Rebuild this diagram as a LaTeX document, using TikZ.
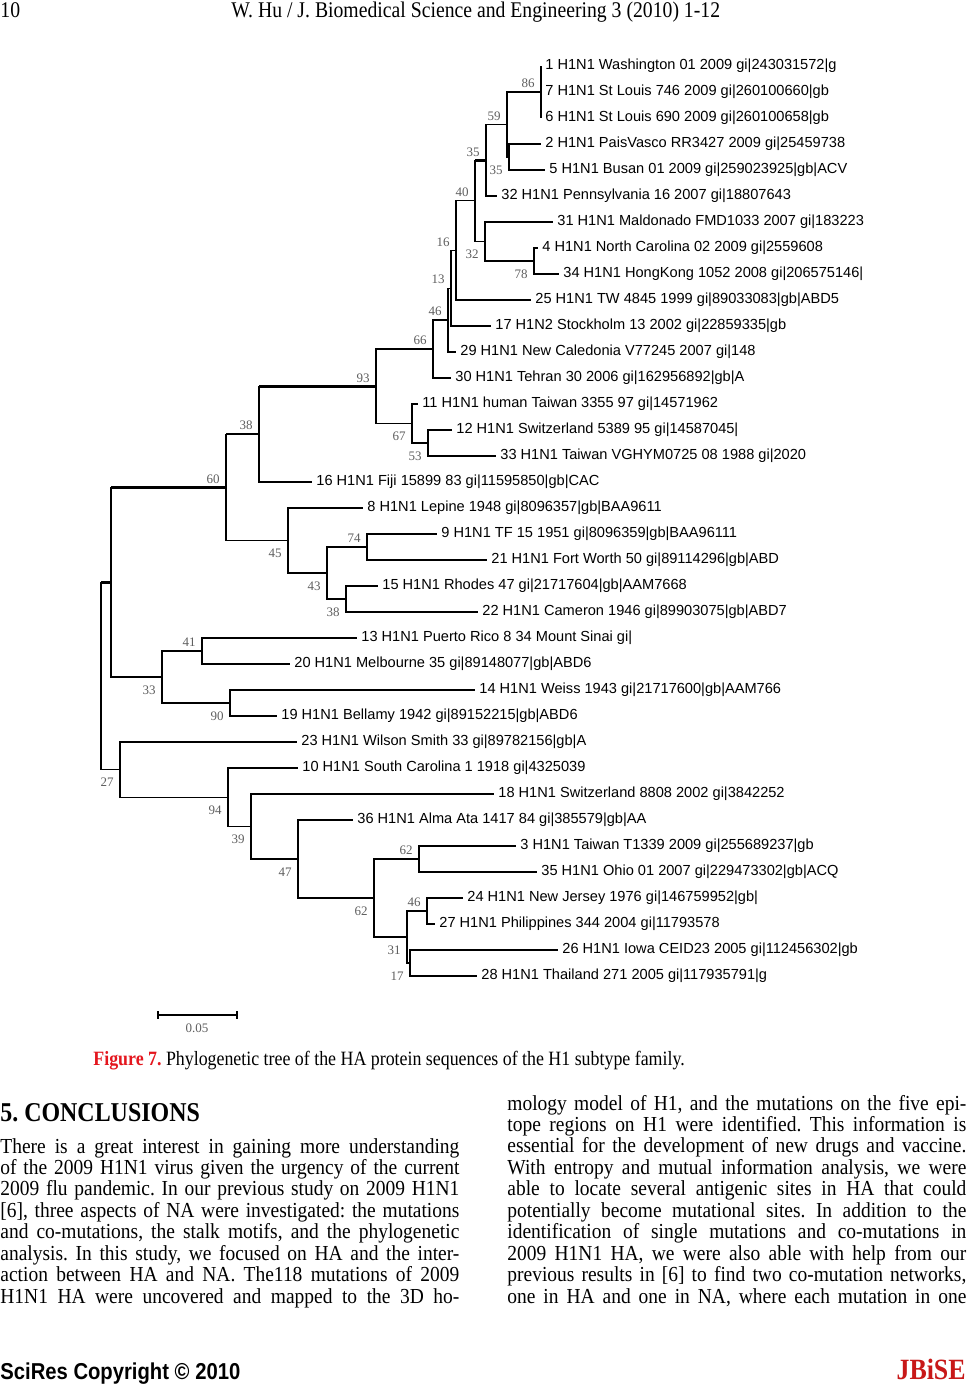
\documentclass[tikz,border=0pt]{standalone}
\usepackage{fontspec}
\setmainfont{Liberation Serif}[FakeStretch=0.88]
\newfontfamily\bodyfont{Liberation Serif}[FakeStretch=0.91]
\newfontfamily\treefont{Liberation Sans}
\newfontfamily\bootfont{Liberation Serif}
\newfontfamily\footfont{Liberation Sans}[FakeStretch=0.88]
\usepackage{xcolor}
\definecolor{figred}{RGB}{228,22,30}
\definecolor{jred}{RGB}{200,24,24}
\definecolor{bootgray}{RGB}{95,95,95}
\frenchspacing

\begin{document}
\begin{tikzpicture}[
      x = 0.5pt, y = -0.5pt,
     br/.style={line width=0.6pt},
     brthick/.style={line width=1.3pt},
     leaf/.style={anchor=west, inner sep=2.2pt, outer sep=0pt,
                  font=\treefont\fontsize{7.3}{8}\selectfont},
     boot/.style={inner sep=0pt, font=\bootfont\fontsize{6.5}{7}\selectfont, text=bootgray},
     bup/.style={boot, xshift=-6.5pt, yshift=4.25pt},
     bdn/.style={boot, xshift=-6.5pt, yshift=-6.5pt},
     plain/.style={anchor=base west, inner sep=0pt},
     bodyline/.style={plain, font=\bodyfont\fontsize{10.7}{10.75}\selectfont},
  ]
\path[fill=white] (0,0) rectangle (966,1385);
\useasboundingbox (0,0) rectangle (966,1385);

% page head
\node[plain, font=\fontsize{11.2}{12}\selectfont] (pno) at (0,18) {10};
\node[plain, font=\fontsize{11.2}{12}\selectfont] (hdr) at (231,18)
  {W. Hu / J. Biomedical Science and Engineering 3 (2010) 1-12};

% taxa
\node [leaf] (t1)  at (541,66)  {1 H1N1 Washington 01 2009 gi|243031572|g};
\node [leaf] (t7)  at (541,92)  {7 H1N1 St Louis 746 2009 gi|260100660|gb};
\node [leaf] (t6)  at (541,118) {6 H1N1 St Louis 690 2009 gi|260100658|gb};
\node [leaf] (t2)  at (541,144) {2 H1N1 PaisVasco RR3427 2009 gi|25459738};
\node [leaf] (t5)  at (545,170) {5 H1N1 Busan 01 2009 gi|259023925|gb|ACV};
\node [leaf] (t32) at (497,196) {32 H1N1 Pennsylvania 16 2007 gi|18807643};
\node [leaf] (t31) at (553,222) {31 H1N1 Maldonado FMD1033 2007 gi|183223};
\node [leaf] (t4)  at (538,248) {4 H1N1 North Carolina 02 2009 gi|2559608};
\node [leaf] (t34) at (559,274) {34 H1N1 HongKong 1052 2008 gi|206575146|};
\node [leaf] (t25) at (531,300) {25 H1N1 TW 4845 1999 gi|89033083|gb|ABD5};
\node [leaf] (t17) at (491,326) {17 H1N2 Stockholm 13 2002 gi|22859335|gb};
\node [leaf] (t29) at (456,352) {29 H1N1 New Caledonia V77245 2007 gi|148};
\node [leaf] (t30) at (451,378) {30 H1N1 Tehran 30 2006 gi|162956892|gb|A};
\node [leaf] (t11) at (418,404) {11 H1N1 human Taiwan 3355 97 gi|14571962};
\node [leaf] (t12) at (452,430) {12 H1N1 Switzerland 5389 95 gi|14587045|};
\node [leaf] (t33) at (496,456) {33 H1N1 Taiwan VGHYM0725 08 1988 gi|2020};
\node [leaf] (t16) at (312,482) {16 H1N1 Fiji 15899 83 gi|11595850|gb|CAC};
\node [leaf] (t8)  at (363,508) {8 H1N1 Lepine 1948 gi|8096357|gb|BAA9611};
\node [leaf] (t9)  at (437,534) {9 H1N1 TF 15 1951 gi|8096359|gb|BAA96111};
\node [leaf] (t21) at (487,560) {21 H1N1 Fort Worth 50 gi|89114296|gb|ABD};
\node [leaf] (t15) at (378,586) {15 H1N1 Rhodes 47 gi|21717604|gb|AAM7668};
\node [leaf] (t22) at (478,612) {22 H1N1 Cameron 1946 gi|89903075|gb|ABD7};
\node [leaf] (t13) at (357,638) {13 H1N1 Puerto Rico 8 34 Mount Sinai gi|};
\node [leaf] (t20) at (290,664) {20 H1N1 Melbourne 35 gi|89148077|gb|ABD6};
\node [leaf] (t14) at (475,690) {14 H1N1 Weiss 1943 gi|21717600|gb|AAM766};
\node [leaf] (t19) at (277,716) {19 H1N1 Bellamy 1942 gi|89152215|gb|ABD6};
\node [leaf] (t23) at (297,742) {23 H1N1 Wilson Smith 33 gi|89782156|gb|A};
\node [leaf] (t10) at (298,768) {10 H1N1 South Carolina 1 1918 gi|4325039};
\node [leaf] (t18) at (494,794) {18 H1N1 Switzerland 8808 2002 gi|3842252};
\node [leaf] (t36) at (353,820) {36 H1N1 Alma Ata 1417 84 gi|385579|gb|AA};
\node [leaf] (t3)  at (516,846) {3 H1N1 Taiwan T1339 2009 gi|255689237|gb};
\node [leaf] (t35) at (537,872) {35 H1N1 Ohio 01 2007 gi|229473302|gb|ACQ};
\node [leaf] (t24) at (463,898) {24 H1N1 New Jersey 1976 gi|146759952|gb|};
\node [leaf] (t27) at (435,924) {27 H1N1 Philippines 344 2004 gi|11793578};
\node [leaf] (t26) at (558,950) {26 H1N1 Iowa CEID23 2005 gi|112456302|gb};
\node [leaf] (t28) at (477,976) {28 H1N1 Thailand 271 2005 gi|117935791|g};

% inner nodes of the tree
\coordinate (c86)  at (541,92);
\coordinate (c35b) at (509,157);
\coordinate (c59)  at (507,124.5);
\coordinate (c35a) at (486,160.3);
\coordinate (c78)  at (534,261);
\coordinate (c32)  at (485,241.5);
\coordinate (c40)  at (475,200.9);
\coordinate (c16)  at (456,250.4);
\coordinate (c13)  at (451,288.2);
\coordinate (c46a) at (448,320.1);
\coordinate (c66)  at (433,349);
\coordinate (c53)  at (428,443);
\coordinate (c67)  at (412,423.5);
\coordinate (c93)  at (376,386.3);
\coordinate (c38a) at (259,434.1);
\coordinate (c74)  at (367,547);
\coordinate (c38b) at (346,599);
\coordinate (c43)  at (327,573);
\coordinate (c45)  at (288,540.5);
\coordinate (c60)  at (226,487.3);
\coordinate (c41)  at (202,651);
\coordinate (c90)  at (230,703);
\coordinate (c33)  at (162,677);
\coordinate (cA)   at (111,582.2);
\coordinate (c62a) at (419,859);
\coordinate (c46b) at (427,911);
\coordinate (c17)  at (410,963);
\coordinate (c31)  at (407,937);
\coordinate (c62b) at (374,898);
\coordinate (c47)  at (298,859);
\coordinate (c39)  at (251,826.5);
\coordinate (c94)  at (228,797.3);
\coordinate (c27)  at (120,769.6);
\coordinate (root) at (101,675.9);

% branches
\foreach \p/\c in {c86/t1, c86/t7, c86/t6, c35b/t2, c35b/t5, c59/c86, c59/c35b,
    c35a/c59, c35a/t32, c40/c35a, c40/c32, c32/t31, c32/c78, c78/t4, c78/t34,
    c16/c40, c16/t25, c13/c16, c13/t17, c46a/c13, c46a/t29, c66/c46a, c66/t30,
    c93/c66, c93/c67, c67/t11, c67/c53, c53/t12, c53/t33, c38a/c93, c38a/t16,
    c60/c38a, c60/c45, c45/t8, c45/c43, c43/c74, c43/c38b, c74/t9, c74/t21,
    c38b/t15, c38b/t22, cA/c60, cA/c33, c33/c41, c33/c90, c41/t13, c41/t20,
    c90/t14, c90/t19, root/cA, root/c27, c27/t23, c27/c94, c94/t10, c94/c39,
    c39/t18, c39/c47, c47/t36, c47/c62b, c62b/c62a, c62b/c31, c62a/t3, c62a/t35,
    c31/c46b, c31/c17, c46b/t24, c46b/t27, c17/t26, c17/t28}
  \draw[br] (\p) |- (\c);
% heavier strokes
\foreach \p/\c in {c40/c35a, c38a/c93, c60/c38a, cA/c60, root/cA, cA/c33, c90/t19,
    c39/t18, c39/c47, c47/t36, c47/c62b, c62b/c62a, c62a/t35, c62b/c31,
    c31/c46b, c46b/t24, c17/t26, c17/t28}
  \draw[brthick] (\p|-\c) -- (\c);
\foreach \p/\c in {root/cA, root/c27, c38a/c93, c60/c38a, c40/c35a, c46a/c13, c46a/t29}
  \draw[brthick] (\p) -- (\p|-\c);

% bootstrap values
\node[bup] (l86)  at (c86)  {86};
\node[bup] (l59)  at (c59)  {59};
\node[bdn] (l35b) at (c35b) {35};
\node[bup] (l35a) at (c35a) {35};
\node[bup] (l40)  at (c40)  {40};
\node[bdn] (l32)  at (c32)  {32};
\node[bdn] (l78)  at (c78)  {78};
\node[bup] (l16)  at (c16)  {16};
\node[bup] (l13)  at (c13)  {13};
\node[bup] (l46a) at (c46a) {46};
\node[bup] (l66)  at (c66)  {66};
\node[bup] (l93)  at (c93)  {93};
\node[bdn] (l67)  at (c67)  {67};
\node[bdn] (l53)  at (c53)  {53};
\node[bup] (l38a) at (c38a) {38};
\node[bup] (l60)  at (c60)  {60};
\node[bup] (l74)  at (c74)  {74};
\node[bdn] (l45)  at (c45)  {45};
\node[bdn] (l43)  at (c43)  {43};
\node[bdn] (l38b) at (c38b) {38};
\node[bup] (l41)  at (c41)  {41};
\node[bdn] (l33)  at (c33)  {33};
\node[bdn] (l90)  at (c90)  {90};
\node[bdn] (l27)  at (c27)  {27};
\node[bdn] (l94)  at (c94)  {94};
\node[bdn] (l39)  at (c39)  {39};
\node[bdn] (l47)  at (c47)  {47};
\node[bdn] (l62b) at (c62b) {62};
\node[bup] (l62a) at (c62a) {62};
\node[bup] (l46b) at (c46b) {46};
\node[bdn] (l31)  at (c31)  {31};
\node[bdn] (l17)  at (c17)  {17};

% scale bar
\coordinate (sbl) at (158,1015);
\coordinate (sbr) at (237,1015);
\draw[br] (sbl) -- (sbr);
\draw[br] ([yshift=2pt]sbl) -- ([yshift=-2pt]sbl);
\draw[br] ([yshift=2pt]sbr) -- ([yshift=-2pt]sbr);
\node[boot] (sbt) at (197,1028) {0.05};

% caption
\node[plain, font=\fontsize{10.15}{12}\selectfont] (cap) at (93,1065)
  {{\color{figred}\bfseries Figure 7.} Phylogenetic tree of the HA protein sequences of the H1 subtype family.};

% section text
\node[plain, font=\bfseries\fontsize{13.6}{14}\selectfont] (sec) at (0,1121) {5. CONCLUSIONS};
\foreach \ln [count=\i from 0] in {
    {There is a great interest in gaining more understanding},
    {of the 2009 H1N1 virus given the urgency of the current},
    {2009 flu pandemic. In our previous study on 2009 H1N1},
    {[6], three aspects of NA were investigated: the mutations},
    {and co-mutations, the stalk motifs, and the phylogenetic},
    {analysis. In this study, we focused on HA and the inter-},
    {action between HA and NA. The118 mutations of 2009},
    {H1N1 HA were uncovered and mapped to the 3D ho-}}
  \node[bodyline] (left\i) at (0,{1153+21.45*\i}) {\makebox[229.5pt][s]{\ln}};
\foreach \ln [count=\i from 0] in {
    {mology model of H1, and the mutations on the five epi-},
    {tope regions on H1 were identified. This information is},
    {essential for the development of new drugs and vaccine.},
    {With entropy and mutual information analysis, we were},
    {able to locate several antigenic sites in HA that could},
    {potentially become mutational sites. In addition to the},
    {identification of single mutations and co-mutations in},
    {2009 H1N1 HA, we were also able with help from our},
    {previous results in [6] to find two co-mutation networks,},
    {one in HA and one in NA, where each mutation in one}}
  \node[bodyline] (right\i) at (507,{1110+21.45*\i}) {\makebox[229.5pt][s]{\ln}};

% page foot
\node[plain, font=\footfont\bfseries\fontsize{11.5}{12}\selectfont] (cpr) at (0,1379)
  {SciRes Copyright © 2010};
\node[plain, anchor=base east, font=\bfseries\fontsize{14.7}{15}\selectfont, text=jred] (jb)
  at (966,1379) {JBiSE};
\end{tikzpicture}
\end{document}
